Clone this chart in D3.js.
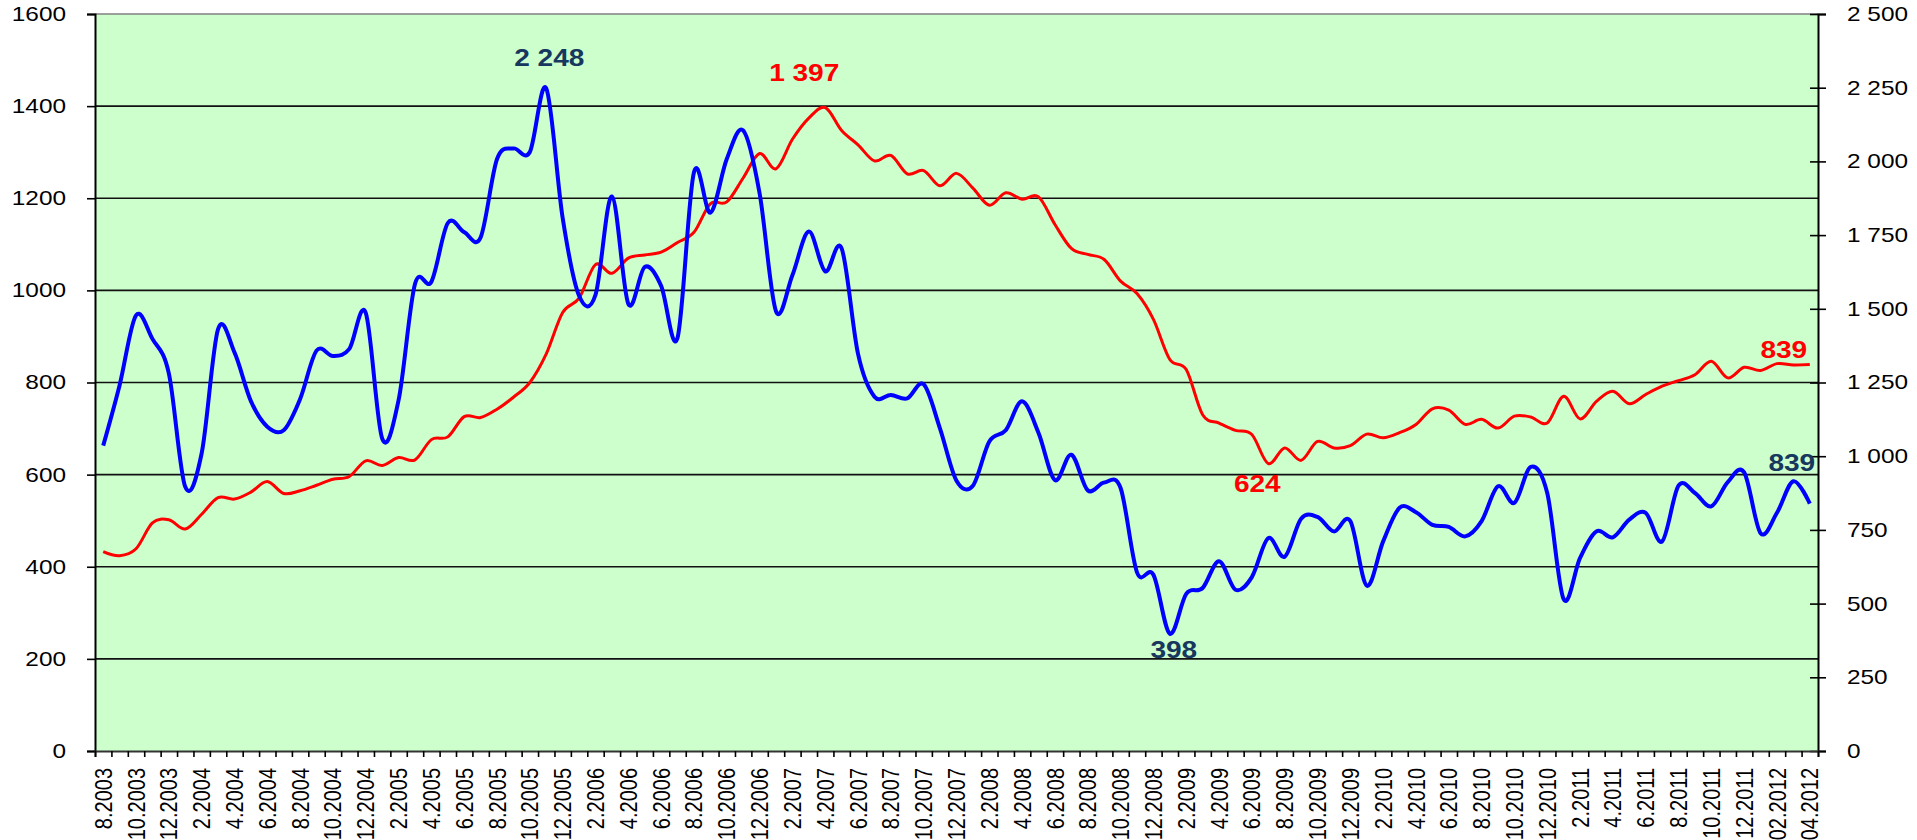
<!DOCTYPE html>
<html>
<head>
<meta charset="utf-8">
<script src="https://cdn.jsdelivr.net/npm/d3@7"></script>
<style>
  body { margin: 0; background: #fff; }
  svg { display: block; font-family: "Liberation Sans", Arial, sans-serif; }
</style>
</head>
<body>
<svg id="chart" width="1917" height="840"></svg>
<script>
// months (category axis)
var months = [
  "8.2003","9.2003","10.2003","11.2003","12.2003",
  "1.2004","2.2004","3.2004","4.2004","5.2004","6.2004","7.2004","8.2004","9.2004","10.2004","11.2004","12.2004",
  "1.2005","2.2005","3.2005","4.2005","5.2005","6.2005","7.2005","8.2005","9.2005","10.2005","11.2005","12.2005",
  "1.2006","2.2006","3.2006","4.2006","5.2006","6.2006","7.2006","8.2006","9.2006","10.2006","11.2006","12.2006",
  "1.2007","2.2007","3.2007","4.2007","5.2007","6.2007","7.2007","8.2007","9.2007","10.2007","11.2007","12.2007",
  "1.2008","2.2008","3.2008","4.2008","5.2008","6.2008","7.2008","8.2008","9.2008","10.2008","11.2008","12.2008",
  "1.2009","2.2009","3.2009","4.2009","5.2009","6.2009","7.2009","8.2009","9.2009","10.2009","11.2009","12.2009",
  "1.2010","2.2010","3.2010","4.2010","5.2010","6.2010","7.2010","8.2010","9.2010","10.2010","11.2010","12.2010",
  "1.2011","2.2011","3.2011","4.2011","5.2011","6.2011","7.2011","8.2011","9.2011","10.2011","11.2011","12.2011",
  "01.2012","02.2012","03.2012","04.2012"
];

// red series, left axis
var redValues = [
  433,424,439,495,502,482,514,550,547,562,585,559,565,577,590,596,630,620,637,632,
  676,682,726,724,742,768,800,862,952,983,1056,1037,1070,1077,1083,1104,1126,1188,1192,1244,
  1297,1264,1328,1374,1397,1347,1316,1281,1293,1253,1260,1227,1254,1222,1185,1212,1198,1203,1143,1091,
  1078,1067,1020,993,937,850,828,730,712,696,687,624,658,631,672,658,663,688,680,691,
  709,743,740,709,720,701,727,725,712,770,721,759,781,754,774,792,804,817,846,810,
  833,826,841,838,839
];

// blue series, right axis
var blueValues = [
  1036,1241,1478,1398,1281,896,1010,1431,1352,1187,1100,1088,1194,1358,1340,1364,1486,1060,1190,1584,
  1592,1791,1760,1742,2008,2044,2032,2248,1808,1544,1547,1881,1517,1642,1578,1402,1963,1826,2008,2105,
  1892,1492,1614,1762,1627,1705,1347,1202,1208,1196,1244,1093,917,900,1050,1088,1186,1079,919,1005,
  884,911,892,606,598,398,533,553,644,547,590,722,659,788,794,745,780,561,711,825,
  810,767,760,728,780,898,842,964,875,515,655,745,725,785,808,711,900,875,830,912,
  945,739,808,915,839
];

var leftTicks = [0,200,400,600,800,1000,1200,1400,1600];
var rightTicks = [0,250,500,750,1000,1250,1500,1750,2000,2250,2500];

// points that carry a value label (index into the series)
var redLabelIdx = [44, 71, 104];
var blueLabelIdx = [27, 65, 104];

var margin = {top: 14, right: 99, bottom: 89, left: 95};
var width = 1917 - margin.left - margin.right,
    height = 840 - margin.top - margin.bottom;
var sx = 1.22; // text in the picture is stretched horizontally

var locale = d3.formatLocale({decimal: ",", thousands: "\u00a0", grouping: [3]});
var fmt = locale.format(",d");

var svg = d3.select("#chart")
  .append("g")
  .attr("transform", "translate(" + margin.left + "," + margin.top + ")");

var x = d3.scaleBand().domain(months).range([0, width]);
var xIdx = d3.scaleLinear().domain([0, months.length]).range([0, width]);
var yL = d3.scaleLinear().domain([0, 1600]).range([height, 0]);
var yR = d3.scaleLinear().domain([0, 2500]).range([height, 0]);
var cx = function(i){ return x(months[i]) + x.bandwidth() / 2; };

svg.append("rect")
  .attr("width", width)
  .attr("height", height)
  .attr("fill", "#ccffcc");

// gridlines
svg.append("g")
  .selectAll("line")
  .data(leftTicks.filter(function(d){ return d > 0 && d < 1600; }))
  .enter().append("line")
  .attr("x1", 0).attr("x2", width)
  .attr("y1", function(d){ return yL(d); })
  .attr("y2", function(d){ return yL(d); })
  .attr("stroke", "#111")
  .attr("stroke-width", 1.6);

svg.append("line")
  .attr("x1", 0).attr("x2", width)
  .attr("y1", 0).attr("y2", 0)
  .attr("stroke", "#808080")
  .attr("stroke-width", 1.6);

// left axis
var leftAxis = svg.append("g")
  .call(d3.axisLeft(yL).tickValues(leftTicks).tickSize(8).tickFormat(d3.format("d")));
leftAxis.select(".domain").attr("stroke", "#000").attr("stroke-width", 2);
leftAxis.selectAll(".tick line").attr("stroke-width", 1.6);
leftAxis.selectAll("text")
  .attr("x", -29 / sx)
  .attr("transform", "scale(" + sx + ",1)")
  .style("font-size", "20px")
  .attr("fill", "#000");

// right axis
var rightAxis = svg.append("g")
  .attr("transform", "translate(" + width + ",0)")
  .call(d3.axisRight(yR).tickValues(rightTicks).tickSize(8).tickFormat(fmt));
rightAxis.select(".domain").attr("stroke", "#000").attr("stroke-width", 2);
rightAxis.selectAll(".tick line").attr("x1", -8).attr("stroke-width", 1.6);
rightAxis.selectAll("text")
  .attr("x", 29 / sx)
  .attr("transform", "scale(" + sx + ",1)")
  .style("font-size", "20px")
  .attr("fill", "#000");

// bottom axis: tick marks between months
var tickAxis = svg.append("g")
  .attr("transform", "translate(0," + height + ")")
  .call(d3.axisBottom(xIdx).tickValues(d3.range(0, months.length + 1)).tickSize(6).tickFormat(""));
tickAxis.select(".domain").attr("stroke", "#333").attr("stroke-width", 2);
tickAxis.selectAll(".tick line").attr("stroke-width", 1.6);

// bottom axis labels, every second month
var labelAxis = svg.append("g")
  .attr("transform", "translate(0," + height + ")")
  .call(d3.axisBottom(x).tickValues(months.filter(function(d, i){ return i % 2 === 0; })).tickSize(0));
labelAxis.select(".domain").remove();
labelAxis.selectAll("text")
  .attr("x", -17)
  .attr("y", 0)
  .attr("dy", "0.35em")
  .attr("transform", "scale(" + sx + ",1) rotate(-90)")
  .style("text-anchor", "end")
  .style("font-size", "20px")
  .attr("fill", "#000");

// lines
var redLine = d3.line()
  .x(function(d, i){ return cx(i); })
  .y(function(d){ return yL(d); })
  .curve(d3.curveCardinal.tension(0));

var blueLine = d3.line()
  .x(function(d, i){ return cx(i); })
  .y(function(d){ return yR(d); })
  .curve(d3.curveCardinal.tension(0));

svg.append("path")
  .datum(redValues)
  .attr("d", redLine)
  .attr("fill", "none")
  .attr("stroke", "#ff0000")
  .attr("stroke-width", 3)
  .attr("stroke-linejoin", "round");

svg.append("path")
  .datum(blueValues)
  .attr("d", blueLine)
  .attr("fill", "none")
  .attr("stroke", "#0000ff")
  .attr("stroke-width", 4)
  .attr("stroke-linejoin", "round");

// value labels
var redOffsets = [[-21, -27], [-11, 28], [-26, -7]];
var blueOffsets = [[3, -22], [4, 24], [-18, -33]];

var addLabel = function(px, py, txt, color){
  svg.append("text")
    .attr("transform", "translate(" + px + "," + py + ") scale(" + sx + ",1)")
    .attr("text-anchor", "middle")
    .style("font-size", "23px")
    .style("font-weight", "bold")
    .attr("fill", color)
    .text(txt);
};

redLabelIdx.forEach(function(idx, k){
  addLabel(cx(idx) + redOffsets[k][0], yL(redValues[idx]) + redOffsets[k][1], fmt(redValues[idx]), "#ff0000");
});
blueLabelIdx.forEach(function(idx, k){
  addLabel(cx(idx) + blueOffsets[k][0], yR(blueValues[idx]) + blueOffsets[k][1], fmt(blueValues[idx]), "#17375e");
});
</script>
</body>
</html>
